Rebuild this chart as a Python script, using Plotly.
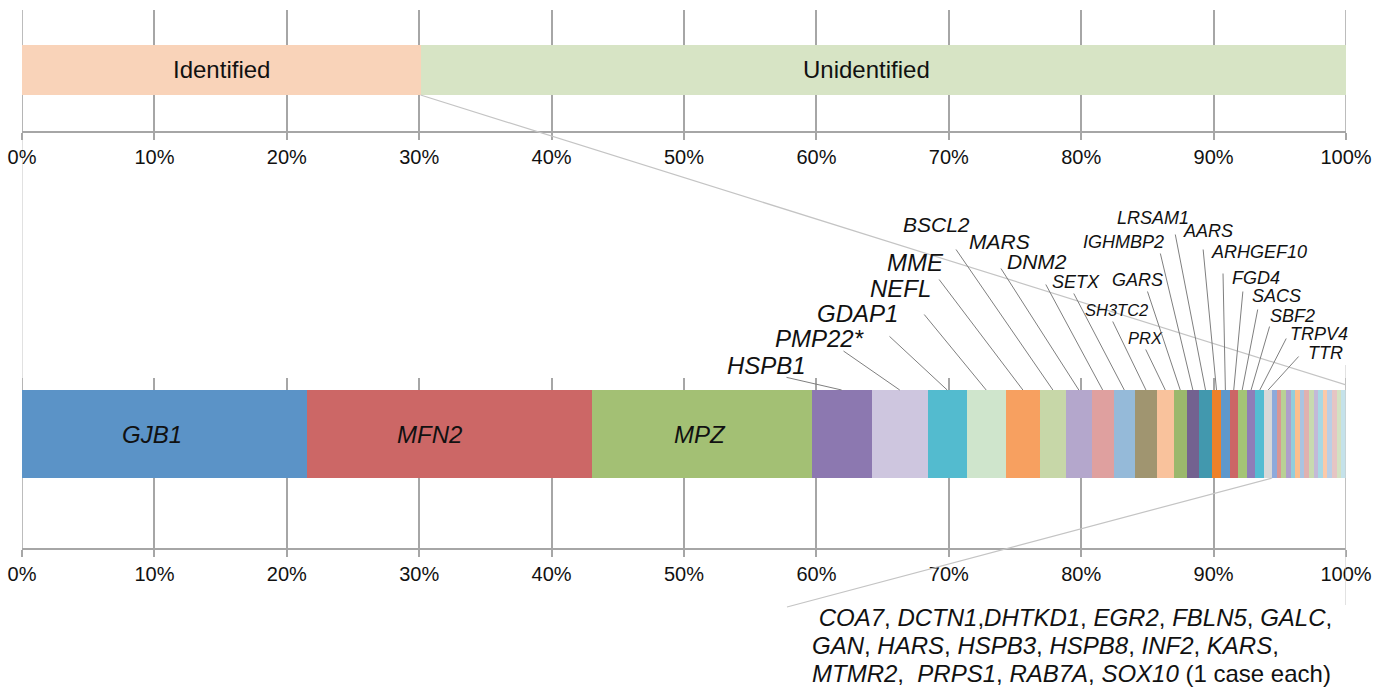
import plotly.graph_objects as go

# ---------------- data ----------------
overview_labels = ["Identified", "Unidentified"]
overview_pct = [30.1, 69.9]
overview_colors = ["#F9D3B9", "#D7E4C5"]

genes = ["GJB1", "MFN2", "MPZ", "HSPB1", "PMP22*", "GDAP1", "NEFL", "MME", "BSCL2", "MARS",
         "DNM2", "SETX", "SH3TC2", "PRX", "GARS", "IGHMBP2", "LRSAM1", "AARS", "ARHGEF10",
         "FGD4", "SACS", "SBF2", "TRPV4", "TTR"]
gene_pct = [21.50, 21.52, 16.62, 4.53, 4.25, 2.92, 2.97, 2.57, 1.96, 1.96,
            1.64, 1.63, 1.64, 1.28, 0.98, 0.93, 0.98, 0.68, 0.66,
            0.60, 0.68, 0.66, 0.66, 0.60]
gene_colors = ["#5B93C7", "#CC6766", "#A3C074", "#8C78B0", "#CEC6DF", "#53BBCF", "#CFE5CC",
               "#F7A060", "#C7D7A8", "#B4A7CC", "#DFA09F", "#95BAD9", "#A09570", "#F9C29C",
               "#9BB86C", "#736290", "#4298AE", "#EE8128", "#5E98CC", "#CC6666", "#A4C476",
               "#8E7DB8", "#54BCD2", "#D9D9D9"]

single_genes = ["COA7", "DCTN1", "DHTKD1", "EGR2", "FBLN5", "GALC", "GAN", "HARS",
                "HSPB3", "HSPB8", "INF2", "KARS", "MTMR2", "PRPS1", "RAB7A", "SOX10"]
single_pct = [0.348, 0.348, 0.348, 0.348, 0.348, 0.348, 0.348, 0.348,
              0.348, 0.348, 0.348, 0.348, 0.348, 0.348, 0.348, 0.348]
single_colors = ["#8EAADB", "#DA9694", "#B9D095", "#AE9FCB", "#92CDDC", "#FABF8F", "#A9C4E2",
                 "#E0B1B0", "#C8DAB0", "#C3B9D8", "#A8D8E4", "#FBC9A9", "#BACEE6", "#E5C5C4",
                 "#D3E1C2", "#C5E2EA"]

tick_vals = [0, 10, 20, 30, 40, 50, 60, 70, 80, 90, 100]
tick_text = ["0%", "10%", "20%", "30%", "40%", "50%", "60%", "70%", "80%", "90%", "100%"]

# ---------------- layout geometry (page pixels) ----------------
W, H = 1389, 688
PX0, PX1 = 22, 1346
UP_TOP, UP_BOT = 10, 131
LO_TOP, LO_BOT = 378, 548
UP_BAR_C, UP_BAR_T = 70, 50
LO_BAR_C, LO_BAR_T = 434, 88

FONT = "Liberation Sans, Arial, sans-serif"
GRID = "#A6A6A6"
CONN = "#C4C4C4"
LEAD = "#7F7F7F"
INK = "#111111"


def fx(px):
    return px / W


def fy(py):
    return 1 - py / H


def px_to_x(px):
    return (px - PX0) / (PX1 - PX0) * 100.0


def py_to_y2(py):
    return (LO_BOT - py) / (LO_BOT - LO_TOP)


up_yc = (UP_BOT - UP_BAR_C) / (UP_BOT - UP_TOP)
up_w = UP_BAR_T / (UP_BOT - UP_TOP)
lo_yc = py_to_y2(LO_BAR_C)
lo_w = LO_BAR_T / (LO_BOT - LO_TOP)
lo_top = lo_yc + lo_w / 2

# in-bar label positions (text center, page px)
overview_text_pos = {"Identified": (221, 70), "Unidentified": (866, 70)}
inside_pos = {"GJB1": (152, 434), "MFN2": (429, 434), "MPZ": (700, 434)}

# leader labels: gene -> (text center x, text center y, leader start x, leader start y, font size)
label_pos = {
    "HSPB1": (766, 366, 785, 377, 24),
    "PMP22*": (819, 338, 842, 350, 24),
    "GDAP1": (857, 313, 888, 335, 24),
    "NEFL": (900, 288, 923, 313, 24),
    "MME": (916, 262, 938, 278, 24),
    "BSCL2": (936, 224, 955, 248, 21),
    "MARS": (999, 242, 1000, 267, 21),
    "DNM2": (1037, 261, 1045, 283, 21),
    "SETX": (1076, 282, 1073, 292, 18),
    "SH3TC2": (1116, 310, 1112, 320, 16.5),
    "PRX": (1145, 338, 1145, 348, 16.5),
    "GARS": (1137, 280, 1147, 290, 18),
    "IGHMBP2": (1123, 242, 1160, 252, 18),
    "LRSAM1": (1153, 218, 1175, 233, 18),
    "AARS": (1208, 231, 1203, 248, 18),
    "ARHGEF10": (1259, 252, 1223, 272, 18),
    "FGD4": (1256, 278, 1243, 290, 18),
    "SACS": (1276, 296, 1258, 308, 18),
    "SBF2": (1292, 316, 1270, 325, 18),
    "TRPV4": (1319, 334, 1287, 337, 18),
    "TTR": (1325, 353, 1300, 355, 18),
}

fig = go.Figure()

# overview bar
for lab, v, c in zip(overview_labels, overview_pct, overview_colors):
    fig.add_trace(go.Bar(
        x=[v], y=[up_yc], width=[up_w], orientation="h", marker=dict(color=c, line=dict(width=0)),
        textposition="none", xaxis="x", yaxis="y", showlegend=False, name=lab))

# gene bar
for g, v, c in zip(genes + single_genes, gene_pct + single_pct, gene_colors + single_colors):
    fig.add_trace(go.Bar(
        x=[v], y=[lo_yc], width=[lo_w], orientation="h", marker=dict(color=c, line=dict(width=0)),
        textposition="none", xaxis="x2", yaxis="y2", showlegend=False, name=g))

cum = 0.0
centers = {}
for g, v in zip(genes, gene_pct):
    centers[g] = cum + v / 2
    cum += v
singles_start = cum

annotations = []
for lab in overview_labels:
    cx, cy = overview_text_pos[lab]
    annotations.append(dict(
        x=fx(cx), y=fy(cy), xref="paper", yref="paper", xanchor="center", yanchor="middle",
        text=lab, showarrow=False, font=dict(family=FONT, size=24, color=INK)))

for g, (cx, cy) in inside_pos.items():
    annotations.append(dict(
        x=fx(cx), y=fy(cy), xref="paper", yref="paper", xanchor="center", yanchor="middle",
        text="<i>" + g + "</i>", showarrow=False, font=dict(family=FONT, size=24, color=INK)))

for g, (cx, cy, sx, sy, fs) in label_pos.items():
    annotations.append(dict(
        x=centers[g], y=lo_top, xref="x2", yref="y2",
        ax=px_to_x(sx), ay=py_to_y2(sy), axref="x2", ayref="y2",
        text="", showarrow=True, arrowhead=0, arrowwidth=1, arrowcolor=LEAD, standoff=0,
        startstandoff=0))
    annotations.append(dict(
        x=fx(cx), y=fy(cy), xref="paper", yref="paper", xanchor="center", yanchor="middle",
        text="<i>" + g + "</i>", showarrow=False, font=dict(family=FONT, size=fs, color=INK)))

# footnote with the single-case genes
it = lambda s: "<i>" + s + "</i>"
foot_lines = [
    " " + it(single_genes[0]) + ", " + it(single_genes[1]) + "," + ", ".join(it(s) for s in single_genes[2:6]) + ",",
    ", ".join(it(s) for s in single_genes[6:12]) + ",",
    it(single_genes[12]) + ",  " + ", ".join(it(s) for s in single_genes[13:16]) + " (1 case each)",
]
for txt, yy in zip(foot_lines, [617, 645, 673]):
    annotations.append(dict(
        x=fx(810), y=fy(yy), xref="paper", yref="paper", xanchor="left", yanchor="middle",
        text=txt, showarrow=False, font=dict(family=FONT, size=24, color=INK)))

shapes = [
    dict(type="line", xref="x", yref="paper", x0=0, x1=0,
         y0=fy(UP_BAR_C + UP_BAR_T / 2), y1=fy(LO_BAR_C - LO_BAR_T / 2),
         line=dict(color=CONN, width=1), layer="below"),
    dict(type="line", xref="x", yref="paper", x0=overview_pct[0], x1=100,
         y0=fy(UP_BAR_C + UP_BAR_T / 2), y1=fy(385),
         line=dict(color=CONN, width=1.2)),
    dict(type="line", xref="x", yref="paper", x0=100, x1=100,
         y0=fy(365), y1=fy(605),
         line=dict(color=CONN, width=1)),
    dict(type="line", xref="x2", yref="paper", x0=singles_start, x1=px_to_x(787),
         y0=fy(LO_BAR_C + LO_BAR_T / 2), y1=fy(607),
         line=dict(color=CONN, width=1.2)),
]
# edge gridlines (0% and 100%) that plotly leaves out at the range limits
for xr, yr in [("x", "y domain"), ("x2", "y2 domain")]:
    for xv in (tick_vals[0], tick_vals[-1]):
        shapes.append(dict(type="line", xref=xr, yref=yr, x0=xv, x1=xv, y0=0, y1=1,
                           line=dict(color=GRID, width=1.5), layer="below"))

axis_common = dict(
    range=[0, 100], tickvals=tick_vals, ticktext=tick_text, showgrid=True, gridcolor=GRID,
    gridwidth=1.5, zeroline=False, showline=True, linecolor=GRID, linewidth=2,
    ticks="outside", ticklen=7, tickwidth=1.5, tickcolor=GRID, automargin=False,
    ticklabeloverflow="allow",
    tickfont=dict(family=FONT, size=20, color=INK), fixedrange=True)

fig.update_layout(
    width=W, height=H, margin=dict(l=0, r=0, t=0, b=0, pad=0), autosize=False,
    paper_bgcolor="white", plot_bgcolor="white", barmode="stack", bargap=0,
    xaxis=dict(domain=[fx(PX0), fx(PX1)], anchor="y", **axis_common),
    yaxis=dict(domain=[fy(UP_BOT), fy(UP_TOP)], range=[0, 1], visible=False, fixedrange=True),
    xaxis2=dict(domain=[fx(PX0), fx(PX1)], anchor="y2", **axis_common),
    yaxis2=dict(domain=[fy(LO_BOT), fy(LO_TOP)], range=[0, 1], visible=False, fixedrange=True),
    annotations=annotations, shapes=shapes, showlegend=False, hovermode=False,
)

# remove the default 8px page margin so the figure fills the 1389x688 window exactly
fig.write_html("out.html", config={"displayModeBar": False},
               post_script="document.body.style.margin='0px';")
